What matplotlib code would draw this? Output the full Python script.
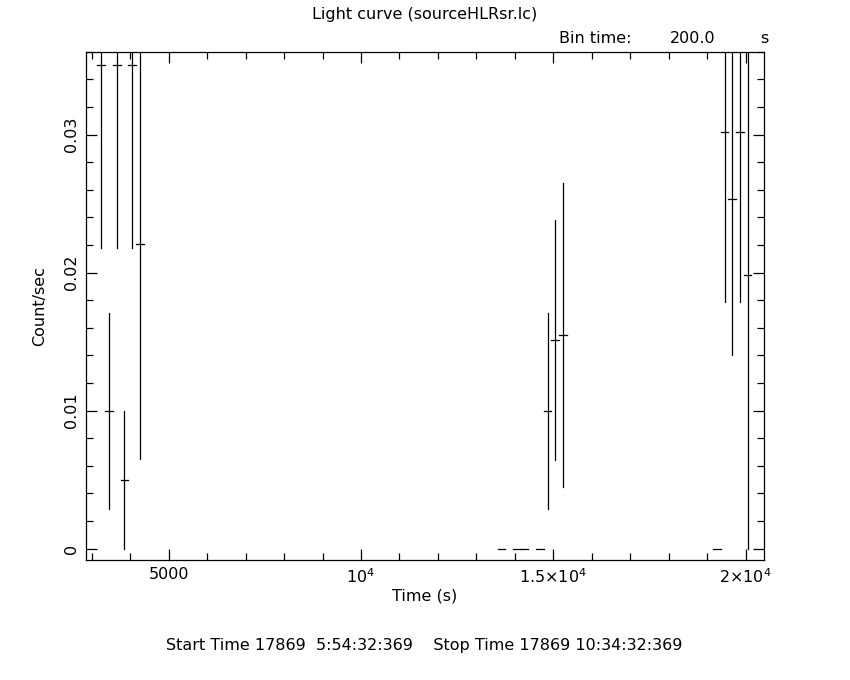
import matplotlib.pyplot as plt
from matplotlib.ticker import MultipleLocator, FixedLocator, FixedFormatter

# bin centres (s), rate (count/s) and 1 sigma errors
time = [3250, 3450, 3650, 3850, 4050, 4250,
        13650, 14050, 14250, 14650, 14850, 15050, 15250,
        19250, 19450, 19650, 19850, 20050]
rate = [0.035, 0.010, 0.035, 0.005, 0.035, 0.0221,
        0.0, 0.0, 0.0, 0.0, 0.010, 0.0151, 0.0155,
        0.0, 0.0302, 0.0253, 0.0302, 0.0198]
err = [0.0132, 0.0071, 0.0132, 0.005, 0.0132, 0.0156,
       0.0, 0.0, 0.0, 0.0, 0.0071, 0.0087, 0.0110,
       0.0, 0.0123, 0.0113, 0.0123, 0.0198]
bin_half = 100

xticks = [5000, 10000, 15000, 20000]
xlabels = ['5000', r'$10^4$', r'$1.5{\times}10^4$', r'$2{\times}10^4$']
yticks = [0, 0.01, 0.02, 0.03]
ylabels = ['0', '0.01', '0.02', '0.03']

plt.rcParams['mathtext.fontset'] = 'dejavusans'
plt.rcParams['font.size'] = 11.5

fig = plt.figure(figsize=(8.5, 6.8), dpi=100)
ax = fig.add_axes([0.1008, 0.176, 0.7984, 0.748])

eb = ax.errorbar(time, rate, xerr=bin_half, yerr=err, fmt='none',
                 ecolor='black', elinewidth=0.9, capsize=0)
for lc in eb[2]:
    lc.set_capstyle('projecting')

ax.set_xlim(2844, 20484)
ax.set_ylim(-0.00084, 0.0360)

ax.xaxis.set_major_locator(FixedLocator(xticks))
ax.xaxis.set_major_formatter(FixedFormatter(xlabels))
ax.xaxis.set_minor_locator(MultipleLocator(1000))
ax.yaxis.set_major_locator(FixedLocator(yticks))
ax.yaxis.set_major_formatter(FixedFormatter(ylabels))
ax.yaxis.set_minor_locator(MultipleLocator(0.002))

ax.tick_params(which='both', direction='in', top=True, right=True,
               width=0.9, color='black')
ax.tick_params(which='major', length=8, pad=5)
ax.tick_params(which='minor', length=5)
for lab in ax.get_yticklabels():
    lab.set_rotation(90)
    lab.set_va('center')
for sp in ax.spines.values():
    sp.set_linewidth(0.9)

ax.set_xlabel('Time (s)', labelpad=2)
ax.set_ylabel('Count/sec', labelpad=12)

fig.text(0.499, 0.978, 'Light curve (sourceHLRsr.lc)', ha='center', va='center')
fig.text(0.658, 0.944, 'Bin time:', ha='left', va='center')
fig.text(0.788, 0.944, '200.0', ha='left', va='center')
fig.text(0.894, 0.944, 's', ha='left', va='center')
fig.text(0.499, 0.051, 'Start Time 17869  5:54:32:369    Stop Time 17869 10:34:32:369',
         ha='center', va='center')

fig.savefig('out.png', dpi=100)
